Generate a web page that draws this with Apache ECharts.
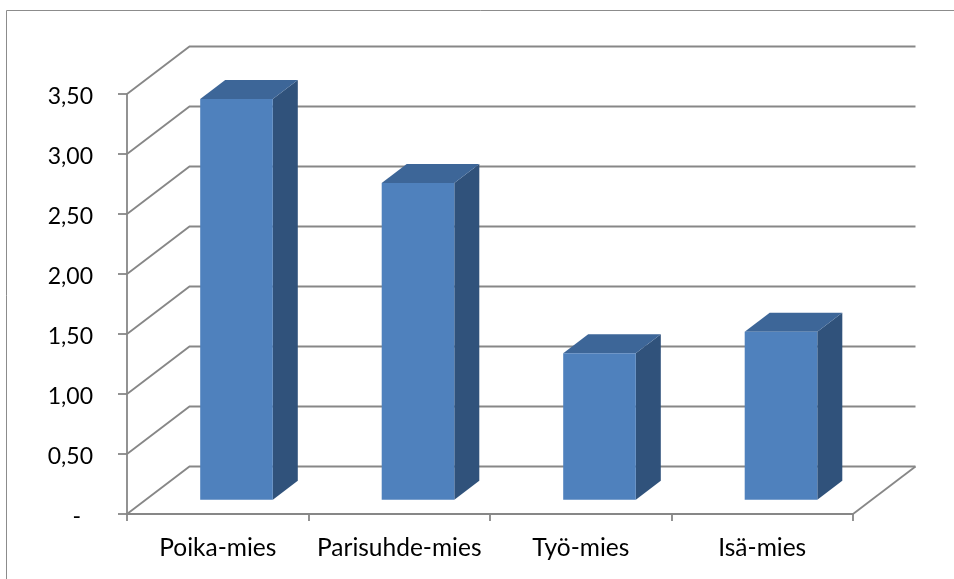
<!DOCTYPE html>
<html>
<head>
<meta charset="utf-8">
<style>
  html, body { margin: 0; padding: 0; background: #ffffff; }
  #chart { width: 954px; height: 579px; }
</style>
<script src="https://cdn.jsdelivr.net/npm/echarts@6/dist/echarts.min.js"></script>
</head>
<body>
<div id="chart"></div>
<script>
// Kategoriat ja arvot
const categories = ['Poika-mies', 'Parisuhde-mies', 'Työ-mies', 'Isä-mies'];
const values = [3.34, 2.64, 1.22, 1.40];
// Arvoakselin jakoviivat
const yTicks = [0, 0.5, 1, 1.5, 2, 2.5, 3, 3.5];

// 3D-vaikutelman syvyys (pikseleinä) ja pylväiden sijoittuminen syvyyssuunnassa
const DEPTH_X = 62.5;
const DEPTH_Y = -47.5;
const BAR_FRONT = 0.3;
const BAR_BACK = 0.7;
const BAR_WIDTH_RATIO = 0.4;

const GRID_COLOR = '#878787';
const GRID_WIDTH = 1.8;
const FACE_FRONT = '#4f81bd';
const FACE_TOP = '#3d6698';
const FACE_SIDE = '#30527b';
const FONT = 'Lato, "Liberation Sans", sans-serif';

const chart = echarts.init(document.getElementById('chart'), null, { renderer: 'canvas' });

function formatValue(v) {
  if (v === 0) return '{dash|-}';
  return '{num|' + v.toFixed(2).replace('.', ',') + '}';
}

// Seinien ja lattian viivat
function renderWalls(params, api) {
  const v = api.value(1);
  const y = api.coord([0, v])[1];
  const cs = params.coordSys;
  const left = cs.x;
  const right = cs.x + cs.width;
  const children = [{
    type: 'polyline',
    shape: { points: [[left, y], [left + DEPTH_X, y + DEPTH_Y], [right + DEPTH_X, y + DEPTH_Y]] },
    style: { stroke: GRID_COLOR, lineWidth: GRID_WIDTH, fill: null }
  }];
  if (v === 0) {
    children.push({
      type: 'line',
      shape: { x1: right, y1: y, x2: right + DEPTH_X, y2: y + DEPTH_Y },
      style: { stroke: GRID_COLOR, lineWidth: GRID_WIDTH }
    });
  }
  return { type: 'group', children: children };
}

// Kolmiulotteiset pylväät
function renderBar(params, api) {
  const idx = api.value(0);
  const base = api.coord([idx, 0]);
  const top = api.coord([idx, api.value(1)]);
  const band = api.size([1, 0])[0];
  const w = band * BAR_WIDTH_RATIO;
  const fx = base[0] - w / 2 + BAR_FRONT * DEPTH_X;
  const topY = top[1] + BAR_FRONT * DEPTH_Y;
  const botY = base[1] + BAR_FRONT * DEPTH_Y;
  const dx = (BAR_BACK - BAR_FRONT) * DEPTH_X;
  const dy = (BAR_BACK - BAR_FRONT) * DEPTH_Y;
  return {
    type: 'group',
    children: [
      {
        type: 'polygon',
        shape: { points: [[fx + w, topY], [fx + w + dx, topY + dy], [fx + w + dx, botY + dy], [fx + w, botY]] },
        style: { fill: FACE_SIDE }
      },
      {
        type: 'polygon',
        shape: { points: [[fx, topY], [fx + w, topY], [fx + w + dx, topY + dy], [fx + dx, topY + dy]] },
        style: { fill: FACE_TOP }
      },
      {
        type: 'rect',
        shape: { x: fx, y: topY, width: w, height: botY - topY },
        style: { fill: FACE_FRONT }
      }
    ]
  };
}

chart.setOption({
  backgroundColor: '#ffffff',
  animation: false,
  graphic: [{
    type: 'rect',
    silent: true,
    shape: { x: 6.5, y: 10.5, width: 1000, height: 1000 },
    style: { fill: null, stroke: '#8c8c8c', lineWidth: 1 }
  }],
  grid: { left: 127, right: 101, top: 94, bottom: 65 },
  xAxis: {
    type: 'category',
    data: categories,
    axisLine: { show: true, lineStyle: { color: GRID_COLOR, width: GRID_WIDTH } },
    axisTick: { show: true, interval: 0, length: 7, lineStyle: { color: GRID_COLOR, width: GRID_WIDTH } },
    axisLabel: { interval: 0, color: '#000', fontFamily: FONT, fontSize: 24.5, margin: 22 },
    splitLine: { show: false }
  },
  yAxis: {
    type: 'value',
    min: 0,
    max: 3.5,
    interval: 0.5,
    axisLine: { show: true, lineStyle: { color: GRID_COLOR, width: GRID_WIDTH } },
    axisTick: { show: true, length: 9, lineStyle: { color: GRID_COLOR, width: GRID_WIDTH } },
    splitLine: { show: false },
    axisLabel: {
      color: '#000', fontFamily: FONT, fontSize: 23, margin: 34,
      formatter: formatValue,
      rich: {
        num: { color: '#000', fontFamily: FONT, fontSize: 23, padding: [5, 0, 0, 0] },
        dash: { color: '#000', fontFamily: FONT, fontSize: 23, padding: [5, 12, 0, 0] }
      }
    }
  },
  series: [
    {
      type: 'custom',
      renderItem: renderWalls,
      data: yTicks.map(v => [0, v]),
      z: 1,
      silent: true
    },
    {
      type: 'custom',
      renderItem: renderBar,
      data: values.map((v, i) => [i, v]),
      z: 2
    }
  ]
});
</script>
</body>
</html>
